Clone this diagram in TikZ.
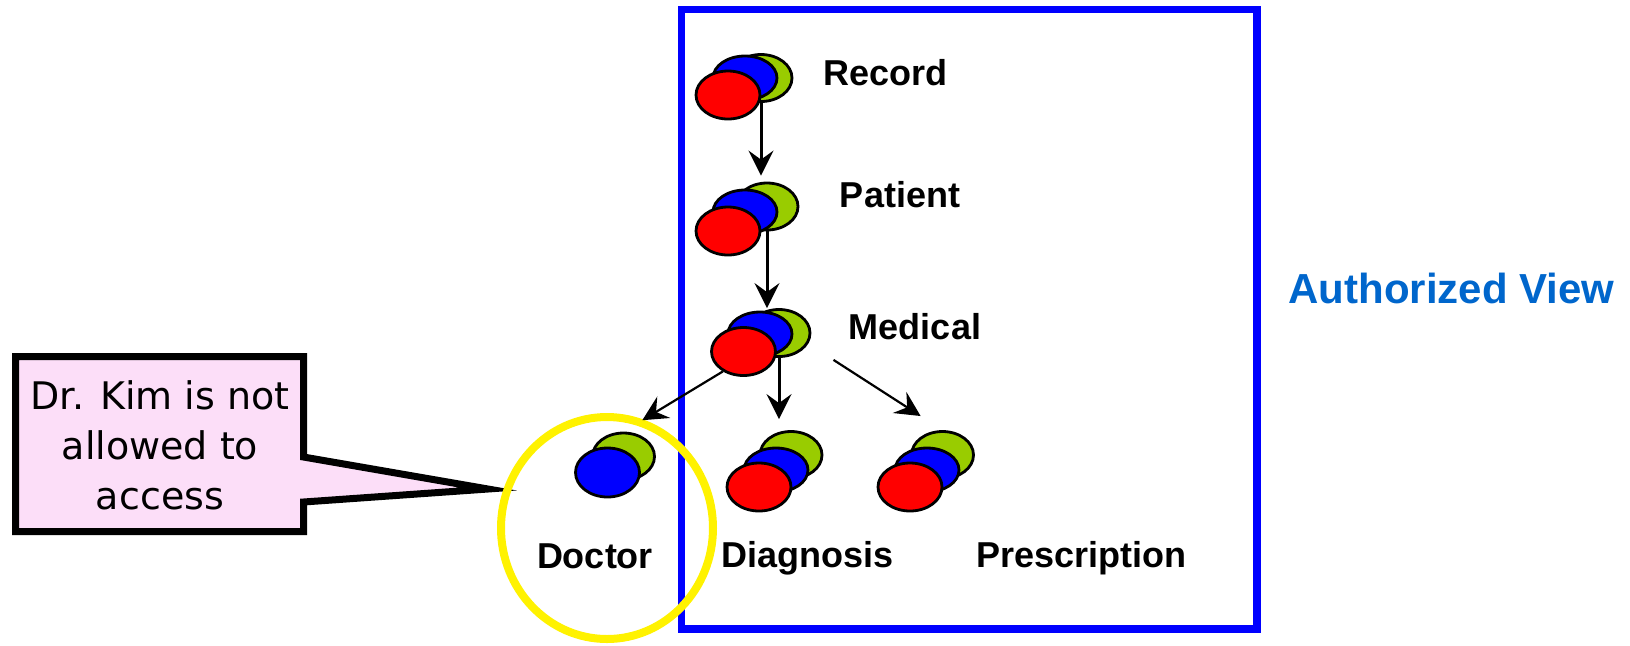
\documentclass[tikz,border=0pt]{standalone}
\usepackage{fontspec}
\newfontfamily\labelfont{Liberation Sans}
\newfontfamily\notefont{DejaVu Sans}
\usetikzlibrary{backgrounds}
\usetikzlibrary{arrows.meta}
\usetikzlibrary{shapes.geometric}
\definecolor{leafgreen}{RGB}{153,204,0}
\definecolor{notepink}{RGB}{252,222,248}
\definecolor{viewblue}{RGB}{0,102,204}
\tikzset{
  blob/.style = {ellipse, draw=black, line width=1.4pt, inner sep=0pt},
  red_n/.style = {blob, fill=red, minimum width=32pt, minimum height=24pt},% devant
  blue_n/.style = {blob, fill=blue, minimum width=32pt, minimum height=22pt},% milieu
  green_n/.style = {blob, fill=leafgreen, minimum width=31pt,
    minimum height=23.5pt},% derriere
  label_n/.style = {anchor=base, inner sep=0pt,
    font=\labelfont\bfseries\fontsize{18}{21.6}\selectfont},
  view_n/.style = {label_n, text=viewblue,
    font=\labelfont\bfseries\fontsize{21}{25}\selectfont},
  note_n/.style = {align=center, inner sep=0pt,
    font=\notefont\fontsize{19}{25}\selectfont},
  ring_n/.style = {ellipse, draw=yellow, line width=4pt, inner sep=0pt,
    minimum width=106pt, minimum height=111pt},
  stem/.style = {line width=1.5pt},
  link/.style = {line width=1.1pt},
}

\begin{document}
\begin{tikzpicture}[->,>={Stealth[length=12.5pt,width=12.5pt,inset=4.5pt]},
	x=0.5pt,y=-0.5pt]
\useasboundingbox (0,0) rectangle (1630,645);

% cadre de la vue
\draw[-,blue,line width=3.75pt] (681.5,9.5) rectangle (1257,629);
\node[view_n] (view) at (1451.5,303) {Authorized View};
\node[ring_n] (ring) at (607,528) {};

% Record
\node[green_n] (rec_g) at (761,78) {};
\node[blue_n] (rec_b) at (745,78) {};
\node[red_n] (rec_r) at (728,95) {};
\node[label_n] (rec_l) at (885.5,85) {Record};
% Patient
\node[green_n] (pat_g) at (767,206.5) {};
\node[blue_n] (pat_b) at (745,212) {};
\node[red_n] (pat_r) at (728,231) {};
\node[label_n] (pat_l) at (900,207) {Patient};
% Medical
\node[green_n] (med_g) at (779,333) {};
\node[blue_n] (med_b) at (760,334) {};
\node[red_n] (med_r) at (743.5,351.5) {};
\node[label_n] (med_l) at (915,339) {Medical};
% Doctor
\node[green_n] (doc_g) at (623.5,456.5) {};
\node[blue_n, minimum height=24.5pt] (doc_b) at (607.5,472.5) {};
\node[label_n] (doc_l) at (595,568) {Doctor};
% Diagnosis
\node[green_n] (diag_g) at (791,455) {};
\node[blue_n] (diag_b) at (776,470) {};
\node[red_n] (diag_r) at (759,487) {};
\node[label_n] (diag_l) at (807.5,567) {Diagnosis};
% Prescription
\node[green_n] (presc_g) at (942.5,455) {};
\node[blue_n] (presc_b) at (927,470) {};
\node[red_n] (presc_r) at (910,487) {};
\node[label_n] (presc_l) at (1081.5,567) {Prescription};

% liens
\draw[stem, shorten >=3pt] (rec_g.south) -- (rec_g.south |- pat_g.north);
\draw[stem] (pat_g.south) -- (pat_g.south |- med_g.north);
\draw[stem, shorten >=5.5pt] (med_g.south) -- (med_g.south |- diag_g.north);
\draw[link, shorten >=11pt] (med_r.224) -- (doc_g.north);
\draw[link, shorten <=15pt, shorten >=13pt] (med_g.-20) -- (presc_g.north);

% bulle
\node[note_n] (note) at (160,445) {Dr. Kim is not\\allowed to\\access};
\begin{pgfonlayer}{background}
\draw[-, line width=3.5pt, fill=notepink, line join=miter]
  (15.5,356.5) -- (303.5,356.5) -- (303.5,457) -- (488,489)
  -- (303.5,502) -- (303.5,531.5) -- (15.5,531.5) -- cycle;
\end{pgfonlayer}
\end{tikzpicture}
\end{document}
